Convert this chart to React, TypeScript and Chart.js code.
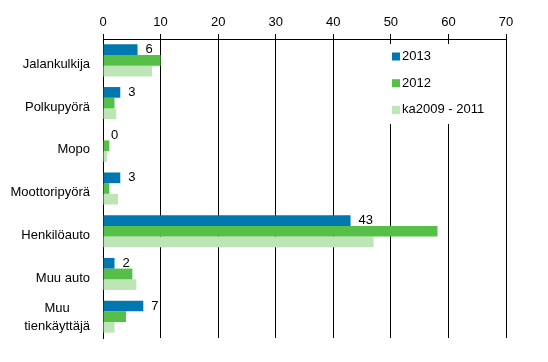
import React, { useEffect, useRef } from "react";
import { Chart, registerables } from "chart.js";

Chart.register(...registerables);

const categories: string[][] = [
  ["Jalankulkija"],
  ["Polkupyörä"],
  ["Mopo"],
  ["Moottoripyörä"],
  ["Henkilöauto"],
  ["Muu auto"],
  ["Muu", "tienkäyttäjä"],
];
const seriesNames = ["2013", "2012", "ka2009 - 2011"];
const values2013 = [6, 3, 0, 3, 43, 2, 7];
const values2012 = [10, 2, 1.1, 1.1, 58.1, 5.1, 4];
const valuesAvg = [8.5, 2.3, 0.7, 2.6, 47, 5.8, 2];
const colors = ["#0077AE", "#55BF48", "#BDE5B5"];
const xMin = 0;
const xMax = 70;
const xStep = 10;

const FONT = "'Liberation Sans', Arial, sans-serif";

const customPlugin = {
  id: "custom",
  afterDatasetsDraw(chart: any) {
    const ctx = chart.ctx;
    const area = chart.chartArea;
    const yScale = chart.scales.y;
    ctx.save();
    ctx.font = `13px ${FONT}`;
    ctx.fillStyle = "#000";

    // category labels
    categories.forEach((lines, i) => {
      const cy = yScale.getPixelForValue(i);
      const right = area.left - 13;
      if (lines.length === 1) {
        ctx.textAlign = "right";
        ctx.textBaseline = "middle";
        ctx.fillText(lines[0], right, cy + 4);
      } else {
        const maxW = Math.max(...lines.map((l) => ctx.measureText(l).width));
        const cx = right - maxW / 2;
        const lh = 18;
        const start = cy + 1 - ((lines.length - 1) * lh) / 2;
        ctx.textAlign = "center";
        ctx.textBaseline = "middle";
        lines.forEach((l, j) => ctx.fillText(l, cx, start + j * lh));
      }
    });

    // value labels for first series
    const meta = chart.getDatasetMeta(0);
    ctx.textAlign = "left";
    ctx.textBaseline = "middle";
    meta.data.forEach((bar: any, i: number) => {
      ctx.fillText(String(values2013[i]), bar.x + 8, bar.y);
    });

    // legend
    const xScale = chart.scales.x;
    const bgLeft = xScale.getPixelForValue(41);
    const bgRight = xScale.getPixelForValue(69.4);
    ctx.fillStyle = "#fff";
    ctx.fillRect(bgLeft, area.top + 5, bgRight - bgLeft, 80);
    const boxX = xScale.getPixelForValue(50.2);
    seriesNames.forEach((name, i) => {
      const cy = area.top + 17.5 + i * 26.7;
      ctx.fillStyle = colors[i];
      ctx.fillRect(boxX, cy - 4, 8, 8);
      ctx.fillStyle = "#000";
      ctx.fillText(name, boxX + 10, cy);
    });
    ctx.restore();
  },
};

export default function App() {
  const ref = useRef<HTMLCanvasElement | null>(null);
  useEffect(() => {
    document.body.style.margin = "0";
    const canvas = ref.current;
    if (!canvas) return;
    const chart = new Chart(canvas, {
      type: "bar",
      data: {
        labels: categories.map((c) => c.join(" ")),
        datasets: [
          { label: seriesNames[0], data: values2013, backgroundColor: colors[0] },
          { label: seriesNames[1], data: values2012, backgroundColor: colors[1] },
          { label: seriesNames[2], data: valuesAvg, backgroundColor: colors[2] },
        ],
      },
      options: {
        indexAxis: "y",
        animation: false,
        responsive: false,
        devicePixelRatio: 1,
        layout: { padding: { left: 0, right: 42, top: 0, bottom: 24 } },
        datasets: { bar: { categoryPercentage: 0.75, barPercentage: 1.0 } },
        plugins: { legend: { display: false }, tooltip: { enabled: false } },
        scales: {
          x: {
            position: "top",
            min: xMin,
            max: xMax,
            ticks: {
              stepSize: xStep,
              color: "#000",
              padding: 4,
              font: { size: 13, family: FONT },
            },
            grid: { color: "#000", lineWidth: 1, drawTicks: true, tickLength: 5 },
            border: { display: true, color: "#000" },
            afterFit: (s: any) => {
              s.height = 39;
            },
          },
          y: {
            ticks: { display: false },
            grid: { display: false },
            border: { display: true, color: "#000" },
            afterFit: (s: any) => {
              s.width = 103;
            },
          },
        },
      } as any,
      plugins: [customPlugin],
    });
    return () => chart.destroy();
  }, []);
  return (
    <div style={{ width: 548, height: 362 }}>
      <canvas ref={ref} width={548} height={362} style={{ display: "block" }} />
    </div>
  );
}
